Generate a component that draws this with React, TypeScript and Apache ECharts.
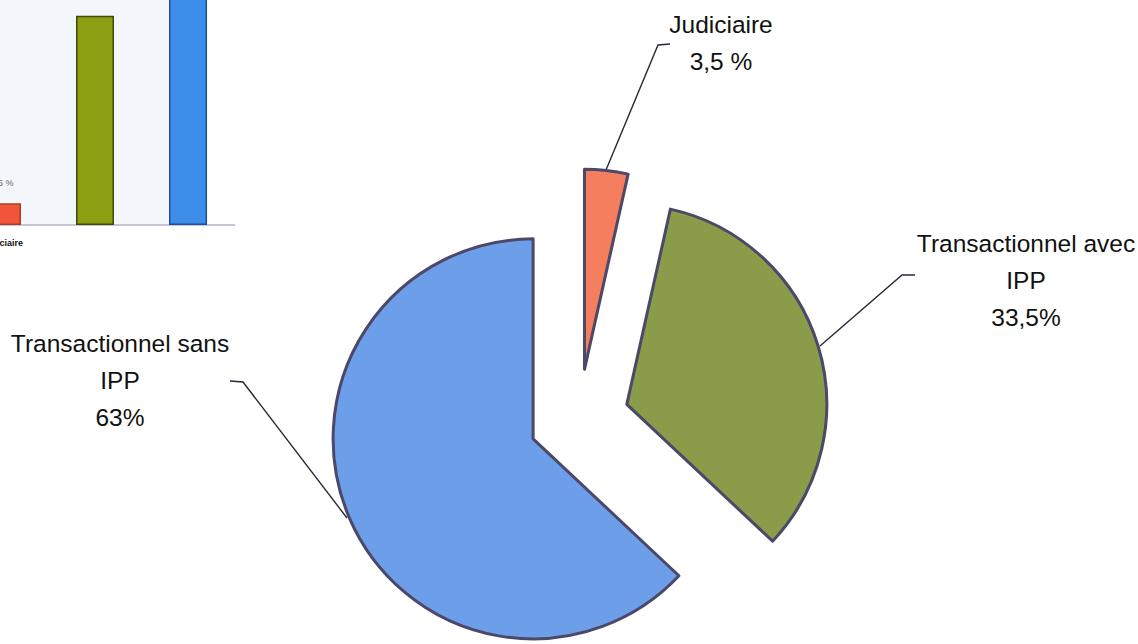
import React, { useEffect, useRef } from "react";
import * as echarts from "echarts";

// ---- data ----
const categories = ["Judiciaire", "Transactionnel avec IPP", "Transactionnel sans IPP"];
const labelNames = ["Judiciaire", "Transactionnel avec\nIPP", "Transactionnel sans\nIPP"];
const shares = [3.5, 33.5, 63];
const shareLabels = ["3,5 %", "33,5%", "63%"];

// ---- styling / layout (not data) ----
const pieColors = ["#F47E5E", "#8A9B4A", "#6D9EEA"];
const barColors = ["#F0553A", "#8C9F12", "#3D8DEB"];
const barBorders = ["#B03A20", "#3F4A08", "#1F4F98"];
const PIE_CENTER = [579, 419];
const PIE_RADIUS = 200;
const EXPLODE = 50;
const labelBoxes = [
  { x: 721, y: 43, line: [[606, 170], [658, 45], [670, 44]] },
  { x: 1026, y: 280, line: [[820, 346], [902, 275], [915, 275]] },
  { x: 120, y: 380, line: [[347, 518], [243, 382], [230, 381]] },
];
const FONT = "Liberation Sans, Arial, Helvetica, sans-serif";

function explodedCenter(i: number): number[] {
  const total = shares.reduce((a, b) => a + b, 0);
  let cum = 0;
  for (let k = 0; k < i; k++) cum += shares[k];
  const midDeg = 90 - (360 * (cum + shares[i] / 2)) / total;
  const rad = (midDeg * Math.PI) / 180;
  return [PIE_CENTER[0] + EXPLODE * Math.cos(rad), PIE_CENTER[1] - EXPLODE * Math.sin(rad)];
}

function pieFor(target: number) {
  return {
    type: "pie",
    z: 3,
    center: explodedCenter(target),
    radius: PIE_RADIUS,
    startAngle: 90,
    clockwise: true,
    silent: true,
    emphasis: { disabled: true },
    avoidLabelOverlap: false,
    data: shares.map((v, i) => ({
      value: v,
      name: categories[i],
      itemStyle:
        i === target
          ? { color: pieColors[i], borderColor: "#4B4868", borderWidth: 3 }
          : { color: "rgba(0,0,0,0)", borderWidth: 0 },
      label: { show: i === target },
      labelLine: { show: i === target },
    })),
    label: {
      color: "#111",
      fontSize: 24.5,
      lineHeight: 37,
      fontFamily: FONT,
      align: "center",
      formatter: (p: any) => labelNames[p.dataIndex] + "\n" + shareLabels[p.dataIndex],
    },
    labelLine: { lineStyle: { color: "#2A2838", width: 1.4 } },
    labelLayout: (params: any) => {
      const b = labelBoxes[params.dataIndex];
      return {
        x: b.x,
        y: b.y,
        align: "center",
        verticalAlign: "middle",
        labelLinePoints: b.line,
      };
    },
  };
}

export default function App() {
  const ref = useRef<HTMLDivElement>(null);
  useEffect(() => {
    if (!ref.current) return;
    const chart = echarts.init(ref.current, null, { renderer: "svg" });
    chart.setOption({
      animation: false,
      backgroundColor: "#ffffff",
      graphic: [
        {
          type: "rect",
          z: 0,
          shape: { x: 0, y: 0, width: 208, height: 225 },
          style: { fill: "#F3F7FC" },
        },
      ],
      grid: {
        left: -44.5,
        top: -212,
        width: 279,
        height: 437,
        show: false,
        containLabel: false,
        outerBoundsMode: "none",
      },
      xAxis: {
        type: "category",
        data: categories,
        axisLine: { lineStyle: { color: "#B4B4CC", width: 1.5 } },
        axisTick: { show: false },
        axisLabel: {
          interval: (index: number) => index === 0,
          fontSize: 9,
          fontWeight: "bold",
          color: "#111",
          fontFamily: FONT,
          margin: 13,
        },
      },
      yAxis: { type: "value", min: 0, max: 70, show: false, splitLine: { show: false } },
      series: [
        {
          type: "bar",
          z: 3,
          barWidth: 38,
          data: shares.map((v, i) => ({
            value: v,
            itemStyle: { color: barColors[i], borderColor: barBorders[i], borderWidth: 1.5 },
          })),
          label: {
            show: true,
            position: "top",
            distance: 16,
            fontSize: 9,
            color: "#666",
            fontFamily: FONT,
            formatter: (p: any) => shareLabels[p.dataIndex],
          },
        },
        pieFor(0),
        pieFor(1),
        pieFor(2),
      ],
    });
    return () => chart.dispose();
  }, []);
  return (
    <div
      ref={ref}
      style={{ position: "absolute", left: 0, top: 0, width: 1138, height: 644 }}
    />
  );
}
